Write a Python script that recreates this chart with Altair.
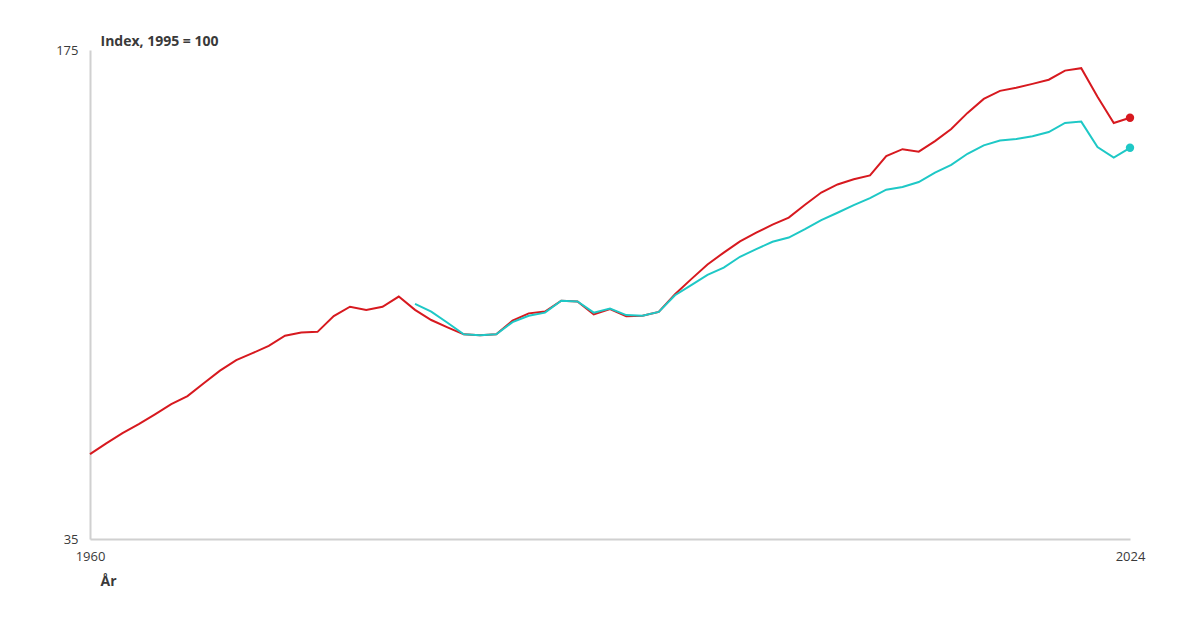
import altair as alt
import pandas as pd

years_red = list(range(1960, 2025))
red_values = [59.3, 62.4, 65.3, 67.9, 70.7, 73.6, 75.9, 79.6, 83.2, 86.2,
              88.2, 90.3, 93.2, 94.1, 94.3, 98.8, 101.5, 100.6, 101.5, 104.4,
              100.6, 97.7, 95.6, 93.6, 93.3, 93.6, 97.5, 99.6, 100.1, 103.2,
              103.0, 99.3, 100.8, 98.8, 98.9, 100.0, 105.1, 109.4, 113.6, 117.0,
              120.2, 122.7, 125.0, 127.0, 130.7, 134.2, 136.5, 138.0, 139.1, 144.6,
              146.6, 145.9, 148.9, 152.4, 157.0, 161.0, 163.3, 164.2, 165.3, 166.5,
              169.1, 169.8, 161.6, 154.1, 155.6]

years_teal = list(range(1980, 2025))
teal_values = [102.3, 100.1, 96.9, 93.6, 93.3, 93.6, 97.1, 98.9, 99.8, 103.2,
               103.0, 99.8, 101.0, 99.1, 98.9, 100.0, 104.8, 107.7, 110.6, 112.7,
               115.8, 118.0, 120.1, 121.3, 123.7, 126.3, 128.4, 130.6, 132.6, 135.0,
               135.8, 137.2, 139.9, 142.1, 145.3, 147.7, 149.1, 149.5, 150.3, 151.5,
               154.1, 154.5, 147.2, 144.2, 147.0]

series_names = ["Serie A", "Serie B"]
series_colors = ["#d7191f", "#1ec8c6"]
x_ticks = [1960, 2024]
y_ticks = [35, 175]

df = pd.concat([
    pd.DataFrame({"År": years_red, "Indeks": red_values, "Serie": series_names[0]}),
    pd.DataFrame({"År": years_teal, "Indeks": teal_values, "Serie": series_names[1]}),
], ignore_index=True)

font = "Open Sans"

x = alt.X("År:Q",
          scale=alt.Scale(domain=[1960, 2024], nice=False, zero=False),
          axis=alt.Axis(values=x_ticks, format="d", ticks=False, grid=False,
                        domainColor="#d0d0d0", domainWidth=2,
                        labelColor="#3a3a3a", labelFontSize=13, labelFont=font,
                        labelPadding=11, labelFlush=False,
                        title="År", titleFont=font, titleFontSize=14,
                        titleFontWeight="bold", titleColor="#3a3a3a",
                        titleAnchor="start", titleAlign="left",
                        titleBaseline="alphabetic", titleX=10, titleY=46))
y = alt.Y("Indeks:Q",
          scale=alt.Scale(domain=[35, 175], nice=False, zero=False),
          axis=alt.Axis(values=y_ticks, ticks=False, grid=False,
                        domainColor="#d0d0d0", domainWidth=2,
                        labelColor="#3a3a3a", labelFontSize=13, labelFont=font,
                        labelPadding=12, labelFlush=False,
                        title="Index, 1995 = 100", titleFont=font, titleFontSize=14,
                        titleFontWeight="bold", titleColor="#3a3a3a",
                        titleAngle=0, titleAlign="left",
                        titleBaseline="alphabetic", titleX=10, titleY=-5))
color = alt.Color("Serie:N",
                  scale=alt.Scale(domain=series_names, range=series_colors),
                  legend=None)

lines = alt.Chart(df).mark_line(strokeWidth=2).encode(x=x, y=y, color=color)
dots = alt.Chart(df).transform_filter(alt.datum["År"] == 2024).mark_circle(
    size=70, opacity=1).encode(x=x, y=y, color=color)

chart = (lines + dots).properties(
    width=1040, height=489,
    autosize=alt.AutoSizeParams(type="none"),
    padding={"left": 82, "top": 42, "right": 62, "bottom": 83},
).configure(background="white").configure_view(stroke=None)

chart.save("out.html", embed_options={"renderer": "svg", "actions": False})
